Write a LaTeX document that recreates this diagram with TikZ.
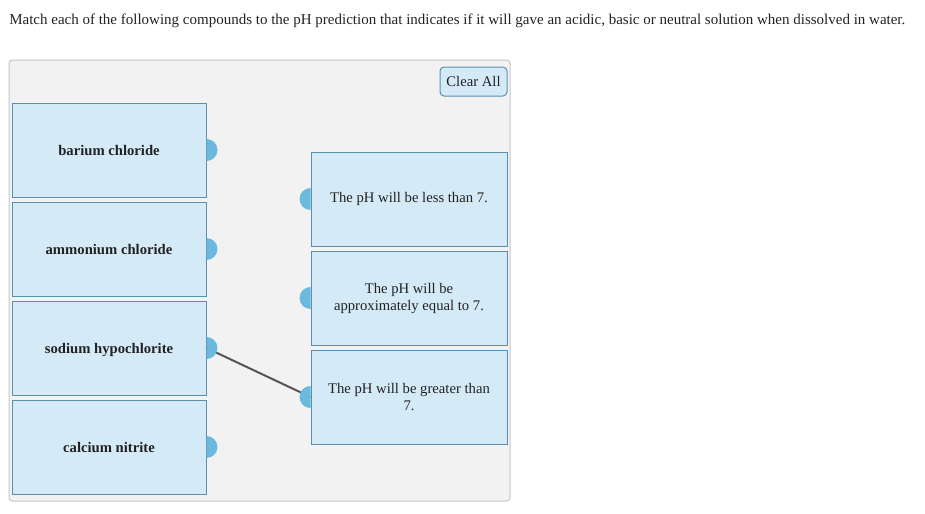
\documentclass[tikz,border=0pt]{standalone}
\usepackage{fontspec}
\setmainfont{Liberation Serif}

\definecolor{boxfill}{HTML}{D4EAF7}
\definecolor{boxline}{HTML}{5B8FB0}
\definecolor{dotblue}{HTML}{6BB9DD}
\definecolor{panelfill}{HTML}{F2F2F2}
\definecolor{panelline}{HTML}{C6C6CC}
\definecolor{wiregray}{HTML}{555555}
\definecolor{textdark}{HTML}{222222}

\begin{document}
\begin{tikzpicture}[x=0.75pt, y=-0.75pt,
    every node/.style={text=textdark, font=\fontsize{11}{12.75}\selectfont},
    leftbox/.style={draw=boxline, fill=boxfill, line width=0.75pt,
        minimum width=145.5pt, minimum height=70.5pt, text height=7.5pt, text depth=0pt,
        font=\fontsize{11}{12.75}\selectfont\bfseries},
    rightbox/.style={draw=boxline, fill=boxfill, line width=0.75pt,
        minimum width=147pt, minimum height=70.5pt, align=center},
    wire/.style={draw=wiregray, line width=1.5pt}]

    \useasboundingbox (0,0) rectangle (925,514);

    % Aufgabentext
    \node[anchor=base west, inner sep=0pt, font=\fontsize{11.25}{13}\selectfont] (title) at (9,24)
        {Match each of the following compounds to the pH prediction that indicates if it will gave an acidic, basic or neutral solution when dissolved in water.};

    % graues Feld
    \draw[fill=panelfill, draw=panelline, line width=0.75pt, rounded corners=2.5pt] (9,60) rectangle (510,501);

    % Knopf oben rechts
    \node[draw=boxline, fill=boxfill, line width=0.75pt, rounded corners=3pt,
        minimum width=50.25pt, minimum height=21.75pt, inner sep=0pt] (clear) at (473.5,81.5) {Clear All};

    % linke Spalte: Verbindungen
    \node[leftbox] (L1) at (109,150) {barium chloride};
    \node[leftbox] (L2) at (109,249) {ammonium chloride};
    \node[leftbox] (L3) at (109,348) {sodium hypochlorite};
    \node[leftbox] (L4) at (109,447) {calcium nitrite};

    % rechte Spalte: pH-Aussagen
    \node[rightbox] (R1) at (409,199) {The pH will be less than 7.};
    \node[rightbox] (R2) at (409,298) {The pH will be\\approximately equal to 7.};
    \node[rightbox] (R3) at (409,397) {The pH will be greater than\\7.};

    % gesetzte Zuordnung
    \draw[wire] (L3.east) -- (R3.west);

    % Halbkreise an den Kaesten
    \foreach \n in {1,...,4} {
        \fill[dotblue] (L\n.east) ++(0,-11) arc[start angle=-90, end angle=90, radius=11] -- cycle;
    }
    \foreach \n in {1,2,3} {
        \fill[dotblue] (R\n.west) ++(0,-11) arc[start angle=-90, end angle=-270, radius=11] -- cycle;
    }
\end{tikzpicture}
\end{document}
